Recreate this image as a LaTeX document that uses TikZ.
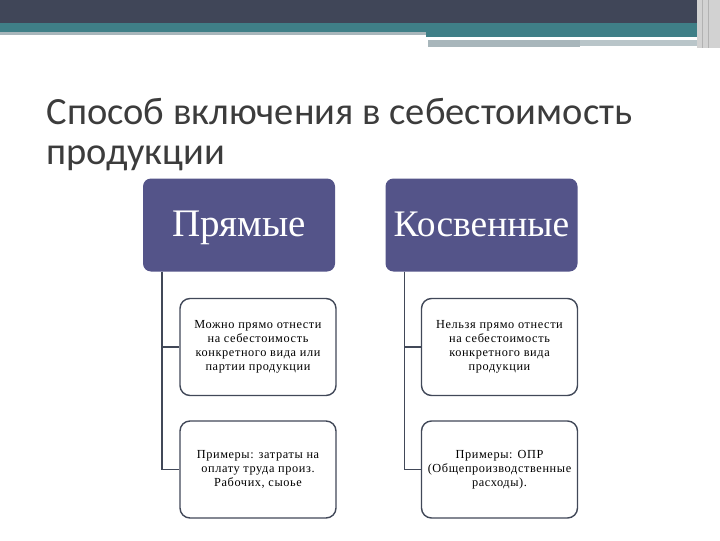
\documentclass[tikz,border=0pt]{standalone}
\usepackage{fontspec}
\setmainfont{Liberation Serif}
\newfontfamily\titlefont{Carlito}
\newfontfamily\itemfont[LetterSpace=5]{Liberation Serif}
\usetikzlibrary{positioning}

\definecolor{bandDark}{HTML}{404658}
\definecolor{bandTeal}{HTML}{3F7F87}
\definecolor{bandGrey}{HTML}{A8B6BB}
\definecolor{headFill}{HTML}{545489}
\definecolor{boxLine}{HTML}{414858}
\definecolor{titleGrey}{HTML}{3C3C3C}

\begin{document}
\begin{tikzpicture}[x=1pt,y=-1pt,
    head/.style={fill=headFill, rounded corners=8pt, minimum width=192pt,
                 minimum height=93pt, text=white, text height=26pt, text depth=4pt},
    item/.style={draw=boxLine, line width=1.4pt, fill=white, rounded corners=10pt,
                 minimum width=156pt, minimum height=97pt, align=center,
                 text=black, font=\itemfont\fontsize{12.3}{14}\selectfont},
    link/.style={draw=boxLine, line width=1.4pt}]
            % page and top bands
            \fill[white] (0,0) rectangle (720,540);
            \fill[bandDark] (0,0) rectangle (720,23);
            \fill[bandTeal] (0,23) rectangle (720,32);
            \fill[bandGrey] (0,32) rectangle (426,35);
            \fill[bandTeal] (426,32) rectangle (700,37);
            \fill[white] (428,37) rectangle (668,40);
            \fill[bandGrey!80] (580,40) rectangle (700,46);
            \fill[bandGrey] (428,40) rectangle (580,47);
            \fill[gray!35] (697,0) rectangle (720,48);
            \draw[gray!60, line width=1pt] (702,0) -- (702,48);
            \draw[gray!60, line width=1pt] (708,0) -- (708,48);

            % title
            \node[anchor=base west, text=titleGrey,
                  font=\titlefont\fontsize{38.5}{40}\selectfont] (title) at (43,124)
                {Способ включения в себестоимость};
            \node[anchor=base west, text=titleGrey,
                  font=\titlefont\fontsize{38.5}{40}\selectfont] (title2) at (43,164)
                {продукции};

            % headers
            \node[head, font=\fontsize{39}{42}\selectfont] (pr) at (239,224.5) {Прямые};
            \node[head, font=\fontsize{37.5}{42}\selectfont] (ko) at (481.5,224.5) {Косвенные};

            % items
            \node[item] (pr1) at (258,346.5) {Можно прямо отнести\\на себестоимость\\конкретного вида или\\партии продукции};
            \node[item] (pr2) at (258,469) {Примеры: затраты на\\оплату труда произ.\\Рабочих, сыоье};
            \node[item] (ko1) at (499.5,346.5) {Нельзя прямо отнести\\на себестоимость\\конкретного вида\\продукции};
            \node[item] (ko2) at (499.5,469) {Примеры: ОПР\\(Общепроизводственные\\расходы).};

            % links
            \coordinate (prL) at ([xshift=19pt]pr.south west);
            \coordinate (koL) at ([xshift=19pt]ko.south west);
            \draw[link] (prL) |- (pr1.west);
            \draw[link] (prL) |- (pr2.west);
            \draw[link] (koL) |- (ko1.west);
            \draw[link] (koL) |- (ko2.west);
        \end{tikzpicture}
\end{document}
